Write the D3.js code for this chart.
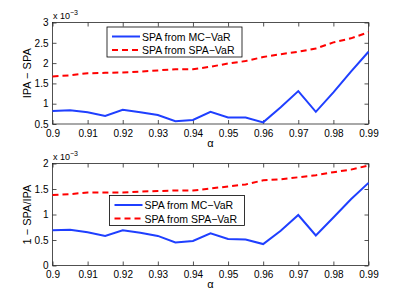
<!DOCTYPE html>
<html>
<head>
<meta charset="utf-8">
<script src="https://cdn.jsdelivr.net/npm/d3@7"></script>
<style>
  body { margin: 0; background: #fff; }
  text { font-family: "Liberation Sans", Arial, sans-serif; }
</style>
</head>
<body>
<div id="chart"></div>
<script>
// alpha levels (x axis)
var alpha = [0.9, 0.905, 0.91, 0.915, 0.92, 0.925, 0.93, 0.935, 0.94, 0.945,
             0.95, 0.955, 0.96, 0.965, 0.97, 0.975, 0.98, 0.985, 0.99];

// top panel: IPA - SPA (x 1e-3)
var topMC  = [0.82, 0.84, 0.79, 0.70, 0.85, 0.79, 0.72, 0.57, 0.60, 0.80,
              0.66, 0.66, 0.54, 0.91, 1.31, 0.80, 1.28, 1.79, 2.28];
var topSPA = [1.67, 1.70, 1.75, 1.76, 1.77, 1.79, 1.82, 1.85, 1.85, 1.91,
              1.99, 2.05, 2.15, 2.22, 2.28, 2.36, 2.51, 2.61, 2.76];

// bottom panel: 1 - SPA/IPA (x 1e-3)
var botMC  = [0.69, 0.70, 0.65, 0.58, 0.69, 0.64, 0.58, 0.45, 0.48, 0.63,
              0.52, 0.51, 0.42, 0.68, 0.99, 0.59, 0.94, 1.30, 1.62];
var botSPA = [1.38, 1.40, 1.43, 1.43, 1.43, 1.45, 1.46, 1.47, 1.47, 1.51,
              1.55, 1.59, 1.67, 1.69, 1.73, 1.77, 1.83, 1.88, 1.96];

var xTicks = [0.9, 0.91, 0.92, 0.93, 0.94, 0.95, 0.96, 0.97, 0.98, 0.99];
var topYTicks = [0.5, 1, 1.5, 2, 2.5, 3];
var botYTicks = [0, 0.5, 1, 1.5, 2];
var seriesNames = ["SPA from MC\u2212VaR", "SPA from SPA\u2212VaR"];

var W = 407, H = 299;
var svg = d3.select("#chart").append("svg")
    .attr("width", W)
    .attr("height", H);

function panel(opt) {
  var x = d3.scaleLinear().domain([0.9, 0.99]).range([52.5, 368.5]);
  var y = d3.scaleLinear().domain(opt.yDomain).range([opt.bottom, opt.top]);
  var g = svg.append("g");

  // axes box
  g.append("rect")
      .attr("x", x.range()[0]).attr("y", opt.top)
      .attr("width", x.range()[1] - x.range()[0])
      .attr("height", opt.bottom - opt.top)
      .attr("fill", "#fff").attr("stroke", "#262626").attr("stroke-width", 0.8);

  // x axis (bottom, inward ticks) + top mirror ticks
  g.append("g")
      .attr("transform", "translate(0," + opt.bottom + ")")
      .call(d3.axisBottom(x).tickValues(xTicks).tickSizeInner(-4).tickSizeOuter(0)
        .tickPadding(5.5).tickFormat(d3.format("")));
  g.append("g")
      .attr("transform", "translate(0," + opt.top + ")")
      .call(d3.axisTop(x).tickValues(xTicks).tickSizeInner(-4).tickSizeOuter(0)
        .tickFormat(""));

  g.append("g")
      .attr("transform", "translate(" + x.range()[0] + ",0)")
      .call(d3.axisLeft(y).tickValues(opt.yTicks).tickSizeInner(-4).tickSizeOuter(0)
        .tickPadding(4).tickFormat(d3.format("")));
  g.append("g")
      .attr("transform", "translate(" + x.range()[1] + ",0)")
      .call(d3.axisRight(y).tickValues(opt.yTicks).tickSizeInner(-4).tickSizeOuter(0)
        .tickFormat(""));

  g.selectAll(".domain").remove();
  g.selectAll(".tick line").attr("stroke", "#262626").attr("stroke-width", 0.8);
  g.selectAll(".tick text").attr("fill", "#000").style("font-size", "10px");

  // x label
  g.append("text")
      .attr("x", (x.range()[0] + x.range()[1]) / 2)
      .attr("y", opt.bottom + 22.5)
      .attr("text-anchor", "middle")
      .style("font-size", "11px")
      .text("\u03b1");

  // y label
  g.append("text")
      .attr("transform", "translate(31," + ((opt.top + opt.bottom) / 2) + ") rotate(-90)")
      .attr("text-anchor", "middle")
      .style("font-size", "11px")
      .text(opt.ylabel);

  // exponent
  var ex = g.append("text")
      .attr("x", 53).attr("y", opt.top - 4)
      .style("font-size", "9px");
  ex.append("tspan").text("x 10");
  ex.append("tspan").attr("dy", -4).style("font-size", "7px").text("\u22123");

  var line = d3.line()
      .x(function(d, i) { return x(alpha[i]); })
      .y(function(d) { return y(d); });

  g.append("path").datum(opt.mc)
      .attr("fill", "none").attr("stroke", "#1f3fff").attr("stroke-width", 2)
      .attr("d", line);
  g.append("path").datum(opt.spa)
      .attr("fill", "none").attr("stroke", "#ff0000").attr("stroke-width", 2)
      .attr("stroke-dasharray", "6,4")
      .attr("d", line);

  // legend
  var lg = g.append("g").attr("transform", "translate(" + opt.legX + "," + opt.legY + ")");
  lg.append("rect")
      .attr("width", 135).attr("height", 30)
      .attr("fill", "#fff").attr("stroke", "#000").attr("stroke-width", 0.8);
  var colors = ["#1f3fff", "#ff0000"];
  seriesNames.forEach(function(name, i) {
    var ly = 9.5 + i * 13.5;
    lg.append("line")
        .attr("x1", 5).attr("x2", 33).attr("y1", ly).attr("y2", ly)
        .attr("stroke", colors[i]).attr("stroke-width", 2)
        .attr("stroke-dasharray", i === 1 ? "6,4" : null);
    lg.append("text")
        .attr("x", 35).attr("y", ly + 4)
        .style("font-size", "10.5px")
        .text(name);
  });
}

panel({ top: 22.5, bottom: 124, yDomain: [0.5, 3], yTicks: topYTicks,
        mc: topMC, spa: topSPA, ylabel: "IPA \u2212 SPA", legX: 107, legY: 27 });
panel({ top: 163.5, bottom: 265.5, yDomain: [0, 2], yTicks: botYTicks,
        mc: botMC, spa: botSPA, ylabel: "1 \u2212 SPA/IPA", legX: 109.5, legY: 195.5 });
</script>
</body>
</html>
